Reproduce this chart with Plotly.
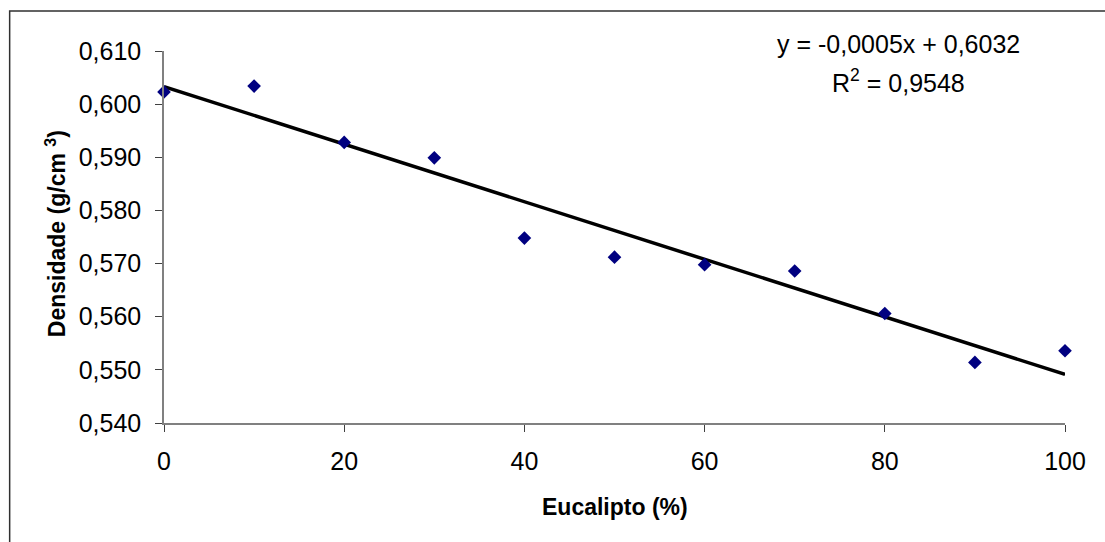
import numpy as np
import plotly.graph_objects as go

# Eucalipto share (%) and measured density (g/cm3)
eucalipto = [0, 10, 20, 30, 40, 50, 60, 70, 80, 90, 100]
densidade = [0.6023, 0.6034, 0.5928, 0.5899, 0.5748, 0.5712, 0.5698, 0.5686, 0.5606, 0.5514, 0.5536]

x_ticks = [0, 20, 40, 60, 80, 100]
y_ticks = [0.540, 0.550, 0.560, 0.570, 0.580, 0.590, 0.600, 0.610]

equation_text = "y = -0,0005x + 0,6032"
r2_text = "R<sup>2</sup> = 0,9548"

# linear trendline fitted to the data
slope, intercept = np.polyfit(eucalipto, densidade, 1)
trend_x = [eucalipto[0], eucalipto[-1]]
trend_y = [slope * v + intercept for v in trend_x]

FONT = "Liberation Sans, Arial, sans-serif"

fig = go.Figure()
fig.add_trace(go.Scatter(
    x=trend_x, y=trend_y, mode="lines",
    line=dict(color="black", width=3.5),
    hoverinfo="skip", showlegend=False, cliponaxis=False,
))
fig.add_trace(go.Scatter(
    x=eucalipto, y=densidade, mode="markers",
    marker=dict(symbol="diamond", size=10.5, color="#000080", line=dict(width=0)),
    showlegend=False, cliponaxis=False,
))

axis_common = dict(
    showgrid=False, zeroline=False,
    showline=True, linecolor="#808080", linewidth=1.5,
    ticks="outside", ticklen=7, tickcolor="#404040", tickwidth=1,
    tickfont=dict(family=FONT, size=25, color="black"),
)

fig.update_xaxes(
    range=[0, 100], tickvals=x_ticks, ticktext=[str(v) for v in x_ticks],
    ticklabelstandoff=8, **axis_common,
)
fig.update_yaxes(
    range=[0.540, 0.610], tickvals=y_ticks, tickformat=".3f",
    ticklabelstandoff=9, **axis_common,
)

fig.update_layout(
    width=1105, height=542,
    margin=dict(l=164, r=40, t=51, b=119),
    paper_bgcolor="white", plot_bgcolor="white",
    separators=", ",
    font=dict(family=FONT, color="black"),
    shapes=[dict(
        type="rect", xref="paper", yref="paper",
        x0=-0.1713, x1=1.06, y0=-0.36, y1=1.1076,
        line=dict(color="#303030", width=1.5), fillcolor="rgba(0,0,0,0)",
    )],
    annotations=[
        dict(text="Eucalipto (%)", xref="paper", yref="paper",
             x=0.5, y=-0.225, xanchor="center", yanchor="middle",
             showarrow=False, font=dict(family=FONT, size=23, color="black", weight="bold")),
        dict(text="Densidade (g/cm <sup>3</sup>)", xref="paper", yref="paper",
             x=-0.12, y=0.51, xanchor="center", yanchor="middle", textangle=-90,
             showarrow=False, font=dict(family=FONT, size=23, color="black", weight="bold")),
        dict(text=equation_text, xref="paper", yref="paper",
             x=0.815, y=1.02, xanchor="center", yanchor="middle",
             showarrow=False, font=dict(family=FONT, size=25, color="black")),
        dict(text=r2_text, xref="paper", yref="paper",
             x=0.815, y=0.92, xanchor="center", yanchor="middle",
             showarrow=False, font=dict(family=FONT, size=25, color="black")),
    ],
)

fig.write_html("out.html")
